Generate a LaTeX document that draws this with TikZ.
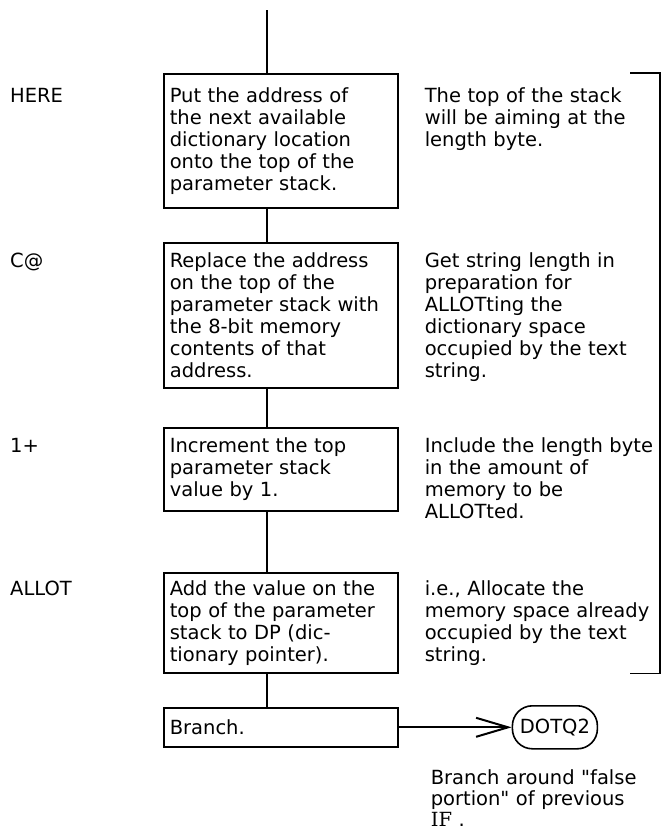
\documentclass[tikz,border=0pt]{standalone}
\usepackage{fontspec}
\setmainfont{DejaVu Sans}[Ligatures=TeXOff]
\newfontfamily\romanif{DejaVu Serif}
\usetikzlibrary{arrows.meta,positioning}

\begin{document}
\begin{tikzpicture}[x=1pt,y=-1pt,font=\fontsize{19.5}{22}\selectfont,
  box/.style={draw,line width=1.6pt,anchor=north west,text width=222pt,align=left,inner xsep=6pt,inner ysep=2pt},
  lbl/.style={anchor=base west,inner sep=0pt},
  cmt/.style={anchor=base west,text width=232pt,align=left,inner sep=0pt},
  flow/.style={line width=2pt},
  brk/.style={line width=1.4pt},
  arr/.style={-{Straight Barb[length=32pt,width=19pt]},line width=2pt}]
\useasboundingbox (0,0) rectangle (663,833);
\coordinate (top) at (267,10);
\coordinate (lx) at (10,0);
\coordinate (brl) at (630,0);
\coordinate (brr) at (660,0);
% flow boxes
\node[box,minimum height=134pt] (b1) at (163,73) {Put the address of\\the next available\\dictionary location\\onto the top of the\\parameter stack.};
\node[box,minimum height=145pt] (b2) at (163,242) {Replace the address\\on the top of the\\parameter stack with\\the 8-bit memory\\contents of that\\address.};
\node[box,minimum height=83pt] (b3) at (163,427) {Increment the top\\parameter stack\\value by 1.};
\node[box,minimum height=100pt] (b4) at (163,572) {Add the value on the\\top of the parameter\\stack to DP (dic-\\tionary pointer).};
\node[box,minimum height=39pt] (b5) at (163,707) {Branch.};
\node[draw,line width=1.6pt,rounded corners=20pt,minimum width=85pt,minimum height=43pt,inner sep=0pt,right=113pt of b5] (dotq) {DOTQ2};
% words on the left
\node[lbl] (lhere) at (b1.base -| lx) {HERE};
\node[lbl] (lcfetch) at (b2.base -| lx) {C@};
\node[lbl] (lplus) at (b3.base -| lx) {1+};
\node[lbl] (lallot) at (b4.base -| lx) {ALLOT};
% comments on the right
\node[cmt,right=26pt of b1.base east,anchor=base west] (c1) {The top of the stack\\will be aiming at the\\length byte.};
\node[cmt,right=26pt of b2.base east,anchor=base west] (c2) {Get string length in\\preparation for\\ALLOTting the\\dictionary space\\occupied by the text\\string.};
\node[cmt,right=26pt of b3.base east,anchor=base west] (c3) {Include the length byte\\in the amount of\\memory to be\\ALLOTted.};
\node[cmt,right=26pt of b4.base east,anchor=base west] (c4) {i.e., Allocate the\\memory space already\\occupied by the text\\string.};
\node[cmt,font=\fontsize{19.5}{21}\selectfont] (c5) at ([xshift=32pt,yshift=-37pt]b5.south east) {Branch around "false\\portion" of previous\\{\romanif IF} .};
% connectors
\draw[flow] (top) -- (top |- b1.north);
\draw[flow] (b1.south -| top) -- (b2.north -| top);
\draw[flow] (b2.south -| top) -- (b3.north -| top);
\draw[flow] (b3.south -| top) -- (b4.north -| top);
\draw[flow] (b4.south -| top) -- (b5.north -| top);
\draw[arr] (b5) -- (dotq);
\draw[brk] (b1.north -| brl) -- (b1.north -| brr) -- (b4.south -| brr) -- (b4.south -| brl);
\end{tikzpicture}
\end{document}
